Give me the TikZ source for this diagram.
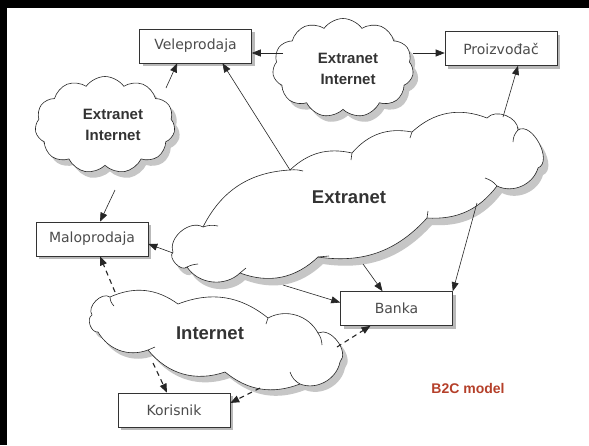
\documentclass[tikz,border=0pt]{standalone}
\usepackage{fontspec}
\usetikzlibrary{shapes.symbols,shadows,arrows.meta,calc}
\newfontfamily\boxfont{DejaVu Sans}
\newfontfamily\labfont{Liberation Sans}
\definecolor{btwoc}{RGB}{181,64,42}
\begin{document}
\begin{tikzpicture}[x=1pt,y=-1pt,
  cloudsh/.style={cloud, cloud ignores aspect, draw=black!85, line width=0.6pt, fill=white, inner sep=0pt,
    drop shadow={shadow xshift=5pt, shadow yshift=-6pt, fill=gray!45, opacity=1}},
  cloudline/.style={draw=black!85, line width=0.6pt, fill=white},
  cloudshadow/.style={fill=gray!45, draw=none},
  tick/.style={draw=black!85, line width=0.6pt},
  box/.style={draw=black!80, line width=0.6pt, fill=white, minimum width=112pt, minimum height=34pt, inner sep=0pt,
    font=\boxfont\fontsize{14}{16}\selectfont, text=black!70,
    drop shadow={shadow xshift=3pt, shadow yshift=-3pt, fill=gray!55, opacity=1}},
  arr/.style={draw=black!85, line width=0.6pt, -{Triangle[length=9pt,width=7pt]}},
  darr/.style={arr, line width=1.1pt, dash pattern=on 5pt off 4pt},
  clab/.style={font=\labfont\bfseries\fontsize{15}{21}\selectfont, text=black!80, align=center},
  blab/.style={font=\labfont\bfseries\fontsize{18.5}{22}\selectfont, text=black!80}]
\useasboundingbox (0,0) rectangle (589,445);
\fill[white] (0,0) rectangle (589,445);
\fill[black] (0,0) rectangle (589,8);
\fill[black] (0,0) rectangle (7,445);
% small clouds
\node[cloudsh, cloud puffs=11, cloud puff arc=110, minimum width=140pt, minimum height=97pt] (leftc) at (105,125) {};
\node[cloudsh, cloud puffs=11, cloud puff arc=110, minimum width=141pt, minimum height=99pt] (topc) at (343,68) {};
% big Extranet cloud (shadow, then outline)
\begin{scope}[xshift=5pt, yshift=-7pt]
\path[cloudshadow] (173,252) to[bend left=70] (203,227) to[bend left=30] (290,170) to[bend left=28] (352,153)
  to[bend left=30] (412,132) to[bend left=32] (487,118) to[bend left=70] (518,130) to[bend left=95] (538,168)
  to[bend left=50] (497,186) to[bend left=28] (427,218) to[bend left=28] (318,257) to[bend left=32] (240,273)
  to[bend left=50] (187,267) to[bend left=90] (173,252) -- cycle;
\end{scope}
\path[cloudline] (173,252) to[bend left=70] (203,227) to[bend left=30] (290,170) to[bend left=28] (352,153)
  to[bend left=30] (412,132) to[bend left=32] (487,118) to[bend left=70] (518,130) to[bend left=95] (538,168)
  to[bend left=50] (497,186) to[bend left=28] (427,218) to[bend left=28] (318,257) to[bend left=32] (240,273)
  to[bend left=50] (187,267) to[bend left=90] (173,252) -- cycle;
% inner strokes of the Extranet cloud
\path[tick] (203,227) to[bend left=15] (218,226);
\path[tick] (290,170) to[bend left=10] (303,171);
\path[tick] (352,153) -- (351,160);
\path[tick] (412,132) -- (410,138);
\path[tick] (518,130) to[bend right=20] (513,142);
\path[tick] (497,186) to[bend right=15] (485,178);
\path[tick] (427,218) -- (428,211);
\path[tick] (318,257) -- (329,256);
\path[tick] (240,273) -- (246,268);
\path[tick] (187,267) to[bend left=10] (198,264);
% Internet cloud (shadow, then outline)
\begin{scope}[xshift=5pt, yshift=-6pt]
\path[cloudshadow] (92,315) to[bend left=80] (110,297) to[bend left=30] (178,304) to[bend left=30] (268,318)
  to[bend left=45] (318,333) to[bend left=80] (340,362) to[bend left=50] (300,384) to[bend left=30] (225,372)
  to[bend left=35] (148,350) to[bend left=40] (98,332) to[bend left=80] (92,315) -- cycle;
\end{scope}
\path[cloudline] (92,315) to[bend left=80] (110,297) to[bend left=30] (178,304) to[bend left=30] (268,318)
  to[bend left=45] (318,333) to[bend left=80] (340,362) to[bend left=50] (300,384) to[bend left=30] (225,372)
  to[bend left=35] (148,350) to[bend left=40] (98,332) to[bend left=80] (92,315) -- cycle;
% inner strokes of the Internet cloud
\path[tick] (110,297) to[bend right=20] (114,306);
\path[tick] (268,318) -- (266,324);
\path[tick] (318,333) to[bend left=15] (322,345);
\path[tick] (300,384) to[bend left=20] (290,372);
\path[tick] (148,350) -- (155,347);
% labels
\node[clab] (leftl) at (113,125) {Extranet\\Internet};
\node[clab] (topl) at (348,69) {Extranet\\Internet};
\node[blab] (extl) at (349,197) {Extranet};
\node[blab] (inetl) at (210,333) {Internet};
\node[font=\labfont\bfseries\fontsize{14}{16}\selectfont, text=btwoc] (b2c) at (468,388) {B2C model};
% boxes
\node[box] (vele) at (195.5,46) {Veleprodaja};
\node[box] (proiz) at (501,48.5) {Proizvođač};
\node[box] (malo) at (92,239) {Maloprodaja};
\node[box] (kor) at (174,410) {Korisnik};
\node[box] (banka) at (396.5,308.5) {Banka};
% solid connectors
\coordinate (s1) at (283,53); \draw[arr] (s1) -- (s1 -| vele.east);
\coordinate (s2) at (413,53); \draw[arr] (s2) -- (s2 -| proiz.west);
\coordinate (s3) at (166,88); \draw[arr] (s3) -- ($(vele.south west)+(38,0)$);
\coordinate (s4) at (115,190); \draw[arr] (s4) -- ($(malo.north)+(8,0)$);
\coordinate (s5) at (290,170); \draw[arr] (s5) -- ($(vele.south)+(27,0)$);
\coordinate (s6) at (503,117); \draw[arr] (s6) -- ($(proiz.south)+(17,0)$);
\coordinate (s7) at (173,253); \draw[arr] (s7) -- ($(malo.east)+(0,5)$);
\coordinate (s8) at (363,264); \draw[arr] (s8) -- ($(banka.north)+(-14,0)$);
\coordinate (s9) at (283,285); \draw[arr] (s9) -- ($(banka.west)+(0,-6)$);
\coordinate (s10) at (477,203); \draw[arr] (s10) -- (banka.north east);
% dashed connectors
\coordinate (d1) at (115,292); \draw[darr] (d1) -- ($(malo.south)+(8,0)$);
\coordinate (d2) at (153,363); \draw[darr] (d2) -- ($(kor.north)+(-7,0)$);
\coordinate (d3) at (260,388); \draw[darr] (d3) -- ($(kor.east)+(0,-7)$);
\coordinate (d4) at (337,347); \draw[darr] (d4) -- ($(banka.south)+(-26,0)$);
\end{tikzpicture}
\end{document}
